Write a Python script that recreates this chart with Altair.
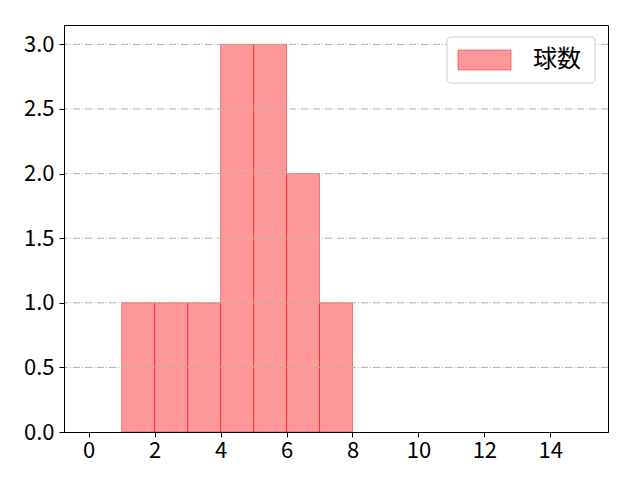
import altair as alt
import pandas as pd

# ---- data ----
bin_start = [1, 2, 3, 4, 5, 6, 7]
bin_end = [2, 3, 4, 5, 6, 7, 8]
counts = [1, 1, 1, 3, 3, 2, 1]
series_name = "球数"
x_ticks = [0, 2, 4, 6, 8, 10, 12, 14]
y_ticks = [0.0, 0.5, 1.0, 1.5, 2.0, 2.5, 3.0]
x_domain = [-0.75, 15.75]
y_domain = [0, 3.15]

df = pd.DataFrame({"start": bin_start, "end": bin_end, "count": counts})
# grid at 0 is hidden under the bottom spine in the reference
grid_df = pd.DataFrame({"g": [v for v in y_ticks if v > 0]})
one = pd.DataFrame({"label": [series_name]})

W, H = 544, 407
FONT = "Noto Sans CJK JP"

xscale = alt.Scale(domain=x_domain, nice=False, zero=False)
yscale = alt.Scale(domain=y_domain, nice=False)
yaxis = alt.Axis(values=y_ticks, format=".1f", title=None, grid=False,
                 labelPadding=5, zindex=1)

bars = alt.Chart(df).mark_rect(fill="red", fillOpacity=0.4, stroke="red",
                               strokeOpacity=0.45, strokeWidth=1).encode(
    x=alt.X("start:Q", scale=xscale,
            axis=alt.Axis(values=x_ticks, title=None, grid=False, format="d",
                          labelPadding=3, zindex=1)),
    x2="end:Q",
    y=alt.Y("count:Q", scale=yscale, axis=yaxis),
    y2=alt.datum(0),
)

# horizontal dash-dot grid drawn above the bars (as in the reference)
grid = alt.Chart(grid_df).mark_rule(color="#b0b0b0", strokeWidth=1,
                                    strokeDash=[7, 2, 1, 2]).encode(
    y=alt.Y("g:Q", scale=yscale, axis=yaxis))

# legend (matplotlib-style box in the upper right)
box = alt.Chart(one).mark_rect(fill="white", stroke="#cccccc", strokeWidth=1,
                               cornerRadius=4).encode(
    x=alt.value(383), x2=alt.value(531), y=alt.value(12), y2=alt.value(58))
patch = alt.Chart(one).mark_rect(fill="red", fillOpacity=0.4, stroke="red",
                                 strokeOpacity=0.45, strokeWidth=1).encode(
    x=alt.value(394), x2=alt.value(447), y=alt.value(25), y2=alt.value(45))
label = alt.Chart(one).mark_text(align="left", baseline="middle", fontSize=24,
                                 font=FONT, color="black").encode(
    text="label:N", x=alt.value(469), y=alt.value(35))

chart = alt.layer(bars, grid, box, patch, label).properties(
    width=W, height=H,
    autosize="none",
    padding={"left": 56, "top": 17, "right": 16, "bottom": 40},
).configure_view(
    stroke="black", strokeWidth=1
).configure_axis(
    labelFont=FONT, labelFontSize=22, labelColor="black",
    tickColor="black", tickSize=5, tickWidth=1,
    domainColor="black", domainWidth=1,
)

chart.save("out.html", embed_options={"renderer": "svg", "actions": False})
